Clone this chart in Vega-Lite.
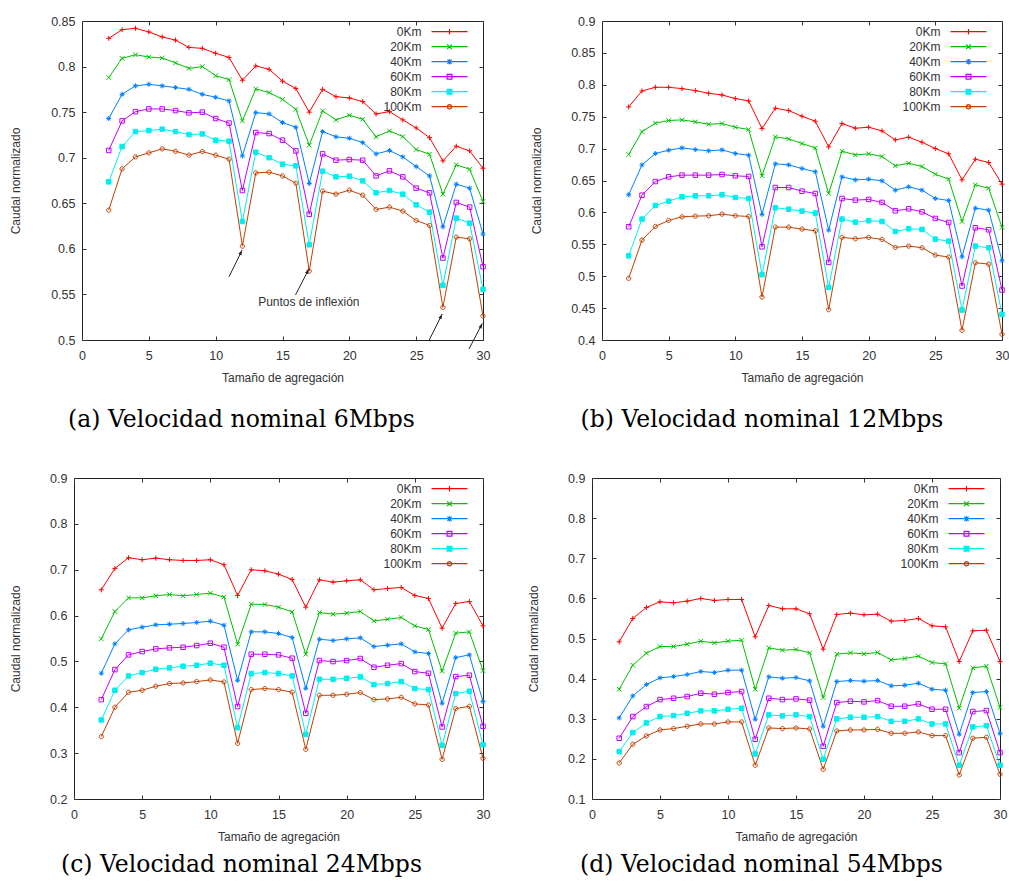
{
  "$schema": "https://vega.github.io/schema/vega-lite/v6.json",
  "padding": {"left": 8, "top": 14, "right": 0, "bottom": 0},
  "background": "#ffffff",
  "config": {
    "view": {"stroke": "#222222", "strokeWidth": 1},
    "axis": {
      "domain": false,
      "grid": false,
      "ticks": true,
      "tickColor": "#333333",
      "tickSize": -4,
      "labelFlush": false,
      "labelOverlap": false,
      "labelPadding": 11,
      "labelFont": "Liberation Sans",
      "labelFontSize": 12.5,
      "labelColor": "#333333",
      "titleFont": "Liberation Sans",
      "titleFontSize": 12,
      "titleFontWeight": "normal",
      "titleColor": "#333333"
    },
    "axisX": {"labelPadding": 13, "titlePadding": 11},
    "legend": {
      "orient": "none", "title": null, "padding": 0,
      "labelAlign": "right", "labelOffset": -35, "labelFont": "Liberation Sans", "labelFontSize": 12, "labelColor": "#333333",
      "symbolSize": 144, "symbolStrokeWidth": 1.2, "rowPadding": 2
    },
    "title": {"font": "DejaVu Serif", "fontSize": 23.5, "fontWeight": "normal", "color": "#000000", "orient": "bottom", "anchor": "middle", "offset": 24}
  },
  "datasets": {
    "a": [
      {"x": 2, "0Km": 0.831, "20Km": 0.788, "40Km": 0.743, "60Km": 0.708, "80Km": 0.6735, "100Km": 0.6425},
      {"x": 3, "0Km": 0.8405, "20Km": 0.809, "40Km": 0.7696, "60Km": 0.7404, "80Km": 0.7122, "100Km": 0.6878},
      {"x": 4, "0Km": 0.842, "20Km": 0.813, "40Km": 0.7788, "60Km": 0.7506, "80Km": 0.7287, "100Km": 0.7009},
      {"x": 5, "0Km": 0.838, "20Km": 0.8105, "40Km": 0.7806, "60Km": 0.7535, "80Km": 0.7298, "100Km": 0.7053},
      {"x": 6, "0Km": 0.8325, "20Km": 0.8095, "40Km": 0.7788, "60Km": 0.7535, "80Km": 0.7313, "100Km": 0.7097},
      {"x": 7, "0Km": 0.829, "20Km": 0.804, "40Km": 0.777, "60Km": 0.7517, "80Km": 0.7287, "100Km": 0.7071},
      {"x": 8, "0Km": 0.821, "20Km": 0.798, "40Km": 0.775, "60Km": 0.7492, "80Km": 0.7254, "100Km": 0.7028},
      {"x": 9, "0Km": 0.82, "20Km": 0.8, "40Km": 0.7696, "60Km": 0.75, "80Km": 0.7261, "100Km": 0.7068},
      {"x": 10, "0Km": 0.8146, "20Km": 0.79, "40Km": 0.7663, "60Km": 0.743, "80Km": 0.7192, "100Km": 0.7028},
      {"x": 11, "0Km": 0.81, "20Km": 0.7857, "40Km": 0.7623, "60Km": 0.738, "80Km": 0.7181, "100Km": 0.6984},
      {"x": 12, "0Km": 0.785, "20Km": 0.7404, "40Km": 0.702, "60Km": 0.664, "80Km": 0.63, "100Km": 0.603},
      {"x": 13, "0Km": 0.8007, "20Km": 0.7755, "40Km": 0.7495, "60Km": 0.7276, "80Km": 0.706, "100Km": 0.6834},
      {"x": 14, "0Km": 0.797, "20Km": 0.7715, "40Km": 0.748, "60Km": 0.7265, "80Km": 0.7, "100Km": 0.6841},
      {"x": 15, "0Km": 0.784, "20Km": 0.764, "40Km": 0.7386, "60Km": 0.7192, "80Km": 0.6929, "100Km": 0.68},
      {"x": 16, "0Km": 0.776, "20Km": 0.753, "40Km": 0.7334, "60Km": 0.7075, "80Km": 0.6911, "100Km": 0.672},
      {"x": 17, "0Km": 0.75, "20Km": 0.7137, "40Km": 0.6717, "60Km": 0.638, "80Km": 0.6045, "100Km": 0.5756},
      {"x": 18, "0Km": 0.775, "20Km": 0.7514, "40Km": 0.7287, "60Km": 0.7042, "80Km": 0.6852, "100Km": 0.6633},
      {"x": 19, "0Km": 0.767, "20Km": 0.7415, "40Km": 0.7229, "60Km": 0.6973, "80Km": 0.679, "100Km": 0.66},
      {"x": 20, "0Km": 0.7656, "20Km": 0.7466, "40Km": 0.7214, "60Km": 0.698, "80Km": 0.6797, "100Km": 0.6644},
      {"x": 21, "0Km": 0.7616, "20Km": 0.7422, "40Km": 0.7166, "60Km": 0.6973, "80Km": 0.6746, "100Km": 0.6589},
      {"x": 22, "0Km": 0.748, "20Km": 0.7229, "40Km": 0.7042, "60Km": 0.68, "80Km": 0.6615, "100Km": 0.6432},
      {"x": 23, "0Km": 0.7506, "20Km": 0.7294, "40Km": 0.7079, "60Km": 0.6856, "80Km": 0.664, "100Km": 0.6458},
      {"x": 24, "0Km": 0.7415, "20Km": 0.7232, "40Km": 0.7009, "60Km": 0.679, "80Km": 0.66, "100Km": 0.6414},
      {"x": 25, "0Km": 0.7327, "20Km": 0.709, "40Km": 0.6903, "60Km": 0.6666, "80Km": 0.6483, "100Km": 0.6311},
      {"x": 26, "0Km": 0.722, "20Km": 0.7038, "40Km": 0.68, "60Km": 0.6615, "80Km": 0.6403, "100Km": 0.6257},
      {"x": 27, "0Km": 0.6965, "20Km": 0.66, "40Km": 0.6242, "60Km": 0.5899, "80Km": 0.56, "100Km": 0.5358},
      {"x": 28, "0Km": 0.7126, "20Km": 0.6922, "40Km": 0.671, "60Km": 0.6509, "80Km": 0.6337, "100Km": 0.6129},
      {"x": 29, "0Km": 0.7075, "20Km": 0.6874, "40Km": 0.6666, "60Km": 0.6458, "80Km": 0.6282, "100Km": 0.611},
      {"x": 30, "0Km": 0.6885, "20Km": 0.652, "40Km": 0.6162, "60Km": 0.5804, "80Km": 0.5555, "100Km": 0.5263}
    ],
    "b": [
      {"x": 2, "0Km": 0.7653, "20Km": 0.6907, "40Km": 0.6276, "60Km": 0.5775, "80Km": 0.532, "100Km": 0.4966},
      {"x": 3, "0Km": 0.7904, "20Km": 0.7267, "40Km": 0.6745, "60Km": 0.627, "80Km": 0.5895, "100Km": 0.5566},
      {"x": 4, "0Km": 0.7961, "20Km": 0.7398, "40Km": 0.6923, "60Km": 0.6484, "80Km": 0.6109, "100Km": 0.578},
      {"x": 5, "0Km": 0.7961, "20Km": 0.744, "40Km": 0.6975, "60Km": 0.6557, "80Km": 0.6176, "100Km": 0.5874},
      {"x": 6, "0Km": 0.794, "20Km": 0.745, "40Km": 0.7011, "60Km": 0.6584, "80Km": 0.6244, "100Km": 0.5931},
      {"x": 7, "0Km": 0.7909, "20Km": 0.7419, "40Km": 0.6985, "60Km": 0.6584, "80Km": 0.626, "100Km": 0.5942},
      {"x": 8, "0Km": 0.7867, "20Km": 0.7382, "40Km": 0.6965, "60Km": 0.6584, "80Km": 0.626, "100Km": 0.5947},
      {"x": 9, "0Km": 0.7841, "20Km": 0.7393, "40Km": 0.698, "60Km": 0.6594, "80Km": 0.6276, "100Km": 0.5973},
      {"x": 10, "0Km": 0.7784, "20Km": 0.7335, "40Km": 0.6923, "60Km": 0.6573, "80Km": 0.6234, "100Km": 0.5947},
      {"x": 11, "0Km": 0.7747, "20Km": 0.7299, "40Km": 0.6897, "60Km": 0.6563, "80Km": 0.6218, "100Km": 0.5937},
      {"x": 12, "0Km": 0.7314, "20Km": 0.6573, "40Km": 0.5968, "60Km": 0.5461, "80Km": 0.5023, "100Km": 0.4673},
      {"x": 13, "0Km": 0.7633, "20Km": 0.7184, "40Km": 0.6761, "60Km": 0.639, "80Km": 0.6072, "100Km": 0.5769},
      {"x": 14, "0Km": 0.7596, "20Km": 0.7152, "40Km": 0.6745, "60Km": 0.639, "80Km": 0.6051, "100Km": 0.5769},
      {"x": 15, "0Km": 0.7507, "20Km": 0.7079, "40Km": 0.6688, "60Km": 0.6333, "80Km": 0.602, "100Km": 0.5738},
      {"x": 16, "0Km": 0.7429, "20Km": 0.7011, "40Km": 0.6636, "60Km": 0.6296, "80Km": 0.5989, "100Km": 0.5712},
      {"x": 17, "0Km": 0.7027, "20Km": 0.6296, "40Km": 0.5722, "60Km": 0.5216, "80Km": 0.4825, "100Km": 0.4475},
      {"x": 18, "0Km": 0.7393, "20Km": 0.6959, "40Km": 0.6557, "60Km": 0.6218, "80Km": 0.5895, "100Km": 0.5608},
      {"x": 19, "0Km": 0.7319, "20Km": 0.6902, "40Km": 0.651, "60Km": 0.6192, "80Km": 0.5848, "100Km": 0.5587},
      {"x": 20, "0Km": 0.7335, "20Km": 0.6918, "40Km": 0.6521, "60Km": 0.6203, "80Km": 0.5869, "100Km": 0.5608},
      {"x": 21, "0Km": 0.7278, "20Km": 0.6876, "40Km": 0.6495, "60Km": 0.6156, "80Km": 0.5858, "100Km": 0.5576},
      {"x": 22, "0Km": 0.7137, "20Km": 0.673, "40Km": 0.6349, "60Km": 0.6025, "80Km": 0.5701, "100Km": 0.5451},
      {"x": 23, "0Km": 0.7179, "20Km": 0.6771, "40Km": 0.6401, "60Km": 0.6056, "80Km": 0.5743, "100Km": 0.5472},
      {"x": 24, "0Km": 0.71, "20Km": 0.6719, "40Km": 0.6349, "60Km": 0.6009, "80Km": 0.5733, "100Km": 0.5446},
      {"x": 25, "0Km": 0.7001, "20Km": 0.6599, "40Km": 0.6218, "60Km": 0.5905, "80Km": 0.5581, "100Km": 0.5331},
      {"x": 26, "0Km": 0.6918, "20Km": 0.6521, "40Km": 0.6187, "60Km": 0.5842, "80Km": 0.555, "100Km": 0.53},
      {"x": 27, "0Km": 0.651, "20Km": 0.5858, "40Km": 0.5305, "60Km": 0.4846, "80Km": 0.447, "100Km": 0.4151},
      {"x": 28, "0Km": 0.6834, "20Km": 0.6432, "40Km": 0.6067, "60Km": 0.5759, "80Km": 0.5472, "100Km": 0.5211},
      {"x": 29, "0Km": 0.6782, "20Km": 0.638, "40Km": 0.6035, "60Km": 0.5728, "80Km": 0.5446, "100Km": 0.519},
      {"x": 30, "0Km": 0.6443, "20Km": 0.5764, "40Km": 0.5242, "60Km": 0.4783, "80Km": 0.4402, "100Km": 0.4089}
    ],
    "c": [
      {"x": 2, "0Km": 0.6562, "20Km": 0.5492, "40Km": 0.4742, "60Km": 0.4167, "80Km": 0.3723, "100Km": 0.336},
      {"x": 3, "0Km": 0.7028, "20Km": 0.6089, "40Km": 0.5383, "60Km": 0.4822, "80Km": 0.4371, "100Km": 0.4},
      {"x": 4, "0Km": 0.7261, "20Km": 0.6387, "40Km": 0.5689, "60Km": 0.5143, "80Km": 0.4684, "100Km": 0.4328},
      {"x": 5, "0Km": 0.7217, "20Km": 0.6387, "40Km": 0.5747, "60Km": 0.5215, "80Km": 0.4757, "100Km": 0.4371},
      {"x": 6, "0Km": 0.7253, "20Km": 0.6431, "40Km": 0.5798, "60Km": 0.5274, "80Km": 0.483, "100Km": 0.4459},
      {"x": 7, "0Km": 0.7217, "20Km": 0.646, "40Km": 0.5812, "60Km": 0.5296, "80Km": 0.4859, "100Km": 0.4517},
      {"x": 8, "0Km": 0.7202, "20Km": 0.6431, "40Km": 0.5827, "60Km": 0.531, "80Km": 0.4895, "100Km": 0.4531},
      {"x": 9, "0Km": 0.7202, "20Km": 0.646, "40Km": 0.5849, "60Km": 0.5346, "80Km": 0.4917, "100Km": 0.456},
      {"x": 10, "0Km": 0.7217, "20Km": 0.6489, "40Km": 0.5878, "60Km": 0.5397, "80Km": 0.4961, "100Km": 0.4597},
      {"x": 11, "0Km": 0.7108, "20Km": 0.6402, "40Km": 0.579, "60Km": 0.531, "80Km": 0.4917, "100Km": 0.4553},
      {"x": 12, "0Km": 0.6438, "20Km": 0.5376, "40Km": 0.4589, "60Km": 0.4015, "80Km": 0.3556, "100Km": 0.3214},
      {"x": 13, "0Km": 0.6999, "20Km": 0.6249, "40Km": 0.5645, "60Km": 0.5157, "80Km": 0.4735, "100Km": 0.4386},
      {"x": 14, "0Km": 0.6977, "20Km": 0.6242, "40Km": 0.5645, "60Km": 0.5157, "80Km": 0.4757, "100Km": 0.4408},
      {"x": 15, "0Km": 0.6904, "20Km": 0.6183, "40Km": 0.5608, "60Km": 0.5143, "80Km": 0.4735, "100Km": 0.4386},
      {"x": 16, "0Km": 0.6787, "20Km": 0.6081, "40Km": 0.5521, "60Km": 0.507, "80Km": 0.4684, "100Km": 0.4328},
      {"x": 17, "0Km": 0.6183, "20Km": 0.5157, "40Km": 0.4415, "60Km": 0.3869, "80Km": 0.341, "100Km": 0.3083},
      {"x": 18, "0Km": 0.678, "20Km": 0.6067, "40Km": 0.5485, "60Km": 0.5019, "80Km": 0.4611, "100Km": 0.4262},
      {"x": 19, "0Km": 0.6729, "20Km": 0.603, "40Km": 0.5456, "60Km": 0.4997, "80Km": 0.4611, "100Km": 0.4262},
      {"x": 20, "0Km": 0.6758, "20Km": 0.6052, "40Km": 0.5492, "60Km": 0.5019, "80Km": 0.4633, "100Km": 0.4284},
      {"x": 21, "0Km": 0.678, "20Km": 0.6089, "40Km": 0.5514, "60Km": 0.5063, "80Km": 0.4662, "100Km": 0.432},
      {"x": 22, "0Km": 0.6562, "20Km": 0.5885, "40Km": 0.5325, "60Km": 0.4873, "80Km": 0.4495, "100Km": 0.4167},
      {"x": 23, "0Km": 0.6591, "20Km": 0.5921, "40Km": 0.5354, "60Km": 0.4917, "80Km": 0.4517, "100Km": 0.4182},
      {"x": 24, "0Km": 0.6613, "20Km": 0.5958, "40Km": 0.5383, "60Km": 0.4953, "80Km": 0.456, "100Km": 0.4218},
      {"x": 25, "0Km": 0.6438, "20Km": 0.5776, "40Km": 0.5208, "60Km": 0.4779, "80Km": 0.4408, "100Km": 0.4073},
      {"x": 26, "0Km": 0.6373, "20Km": 0.5696, "40Km": 0.5172, "60Km": 0.4742, "80Km": 0.4386, "100Km": 0.4051},
      {"x": 27, "0Km": 0.5725, "20Km": 0.4786, "40Km": 0.4087, "60Km": 0.3571, "80Km": 0.317, "100Km": 0.2865},
      {"x": 28, "0Km": 0.6264, "20Km": 0.5616, "40Km": 0.5084, "60Km": 0.4669, "80Km": 0.4298, "100Km": 0.3971},
      {"x": 29, "0Km": 0.6307, "20Km": 0.5645, "40Km": 0.5143, "60Km": 0.4699, "80Km": 0.4349, "100Km": 0.4022},
      {"x": 30, "0Km": 0.5776, "20Km": 0.48, "40Km": 0.4124, "60Km": 0.3585, "80Km": 0.3185, "100Km": 0.2886}
    ],
    "d": [
      {"x": 2, "0Km": 0.4917, "20Km": 0.3736, "40Km": 0.3021, "60Km": 0.2514, "80Km": 0.2181, "100Km": 0.1898},
      {"x": 3, "0Km": 0.5499, "20Km": 0.4335, "40Km": 0.357, "60Km": 0.3054, "80Km": 0.2655, "100Km": 0.2364},
      {"x": 4, "0Km": 0.5773, "20Km": 0.4634, "40Km": 0.3852, "60Km": 0.3304, "80Km": 0.2896, "100Km": 0.2572},
      {"x": 5, "0Km": 0.5915, "20Km": 0.48, "40Km": 0.4019, "60Km": 0.3478, "80Km": 0.3054, "100Km": 0.2721},
      {"x": 6, "0Km": 0.589, "20Km": 0.48, "40Km": 0.4052, "60Km": 0.3511, "80Km": 0.3079, "100Km": 0.2755},
      {"x": 7, "0Km": 0.5931, "20Km": 0.4859, "40Km": 0.4102, "60Km": 0.3553, "80Km": 0.3137, "100Km": 0.2813},
      {"x": 8, "0Km": 0.5998, "20Km": 0.4933, "40Km": 0.4177, "60Km": 0.3636, "80Km": 0.3196, "100Km": 0.2871},
      {"x": 9, "0Km": 0.5948, "20Km": 0.4892, "40Km": 0.4152, "60Km": 0.3611, "80Km": 0.3196, "100Km": 0.2871},
      {"x": 10, "0Km": 0.5973, "20Km": 0.4933, "40Km": 0.421, "60Km": 0.3653, "80Km": 0.3237, "100Km": 0.2921},
      {"x": 11, "0Km": 0.5973, "20Km": 0.4958, "40Km": 0.421, "60Km": 0.3678, "80Km": 0.3262, "100Km": 0.2921},
      {"x": 12, "0Km": 0.5042, "20Km": 0.3736, "40Km": 0.2987, "60Km": 0.2489, "80Km": 0.2123, "100Km": 0.184},
      {"x": 13, "0Km": 0.5823, "20Km": 0.4767, "40Km": 0.4044, "60Km": 0.3511, "80Km": 0.3096, "100Km": 0.2771},
      {"x": 14, "0Km": 0.574, "20Km": 0.4709, "40Km": 0.401, "60Km": 0.3478, "80Km": 0.3071, "100Km": 0.2755},
      {"x": 15, "0Km": 0.574, "20Km": 0.4726, "40Km": 0.4027, "60Km": 0.3495, "80Km": 0.3096, "100Km": 0.2771},
      {"x": 16, "0Km": 0.5615, "20Km": 0.4642, "40Km": 0.3944, "60Km": 0.3462, "80Km": 0.3054, "100Km": 0.2746},
      {"x": 17, "0Km": 0.4734, "20Km": 0.3528, "40Km": 0.2813, "60Km": 0.2314, "80Km": 0.199, "100Km": 0.174},
      {"x": 18, "0Km": 0.5599, "20Km": 0.4609, "40Km": 0.3927, "60Km": 0.3403, "80Km": 0.2996, "100Km": 0.2696},
      {"x": 19, "0Km": 0.5632, "20Km": 0.4642, "40Km": 0.3952, "60Km": 0.3437, "80Km": 0.3037, "100Km": 0.2721},
      {"x": 20, "0Km": 0.559, "20Km": 0.4617, "40Km": 0.3936, "60Km": 0.342, "80Km": 0.3037, "100Km": 0.2721},
      {"x": 21, "0Km": 0.5607, "20Km": 0.4651, "40Km": 0.3952, "60Km": 0.3453, "80Km": 0.3054, "100Km": 0.2738},
      {"x": 22, "0Km": 0.5432, "20Km": 0.4468, "40Km": 0.3819, "60Km": 0.3312, "80Km": 0.2937, "100Km": 0.2638},
      {"x": 23, "0Km": 0.5449, "20Km": 0.4501, "40Km": 0.3836, "60Km": 0.3312, "80Km": 0.2937, "100Km": 0.2638},
      {"x": 24, "0Km": 0.5499, "20Km": 0.4559, "40Km": 0.3886, "60Km": 0.337, "80Km": 0.2996, "100Km": 0.2671},
      {"x": 25, "0Km": 0.5316, "20Km": 0.4401, "40Km": 0.3736, "60Km": 0.3237, "80Km": 0.2871, "100Km": 0.258},
      {"x": 26, "0Km": 0.5291, "20Km": 0.4368, "40Km": 0.3711, "60Km": 0.3237, "80Km": 0.2871, "100Km": 0.258},
      {"x": 27, "0Km": 0.4426, "20Km": 0.3262, "40Km": 0.2613, "60Km": 0.2156, "80Km": 0.184, "100Km": 0.1599},
      {"x": 28, "0Km": 0.5191, "20Km": 0.4268, "40Km": 0.3653, "60Km": 0.3179, "80Km": 0.2796, "100Km": 0.2514},
      {"x": 29, "0Km": 0.5208, "20Km": 0.431, "40Km": 0.3678, "60Km": 0.3204, "80Km": 0.2829, "100Km": 0.2538},
      {"x": 30, "0Km": 0.4426, "20Km": 0.3279, "40Km": 0.263, "60Km": 0.2156, "80Km": 0.184, "100Km": 0.1616}
    ],
    "flechas": [
      {"x0": 11.0, "y0": 0.5694, "x1": 11.98, "y1": 0.5986},
      {"x0": 15.97, "y0": 0.5493, "x1": 16.97, "y1": 0.5778},
      {"x0": 25.95, "y0": 0.4992, "x1": 26.95, "y1": 0.5285},
      {"x0": 28.95, "y0": 0.4901, "x1": 29.95, "y1": 0.5182}
    ],
    "nota": [
      {"x": 16.97, "y": 0.5413, "texto": "Puntos de inflexión"}
    ]
  },
  "vconcat": [
    {
      "hconcat": [
        {"width": 1, "height": 1, "view": {"stroke": null}, "data": {"values": []}, "mark": "point"},
        {
          "hconcat": [
            {
              "width": 401,
              "height": 319,
              "title": {"text": "(a) Velocidad nominal 6Mbps", "dx": -41},
              "data": {"name": "a"},
              "layer": [
                {
                  "transform": [{"fold": ["0Km", "20Km", "40Km", "60Km", "80Km", "100Km"], "as": ["dist", "v"]}],
                  "mark": {"type": "line", "strokeWidth": 1},
                  "encoding": {
                    "x": {"field": "x", "type": "quantitative", "scale": {"domain": [0, 30], "nice": false}, "axis": {"values": [0, 5, 10, 15, 20, 25, 30], "title": "Tamaño de agregación"}},
                    "y": {"field": "v", "type": "quantitative", "scale": {"domain": [0.5, 0.85], "nice": false, "zero": false}, "axis": {"values": [0.5, 0.55, 0.6, 0.65, 0.7, 0.75, 0.8, 0.85], "format": "~g", "title": "Caudal normalizado", "titlePadding": 28}},
                    "color": {
                      "field": "dist", "type": "nominal",
                      "scale": {"domain": ["0Km", "20Km", "40Km", "60Km", "80Km", "100Km"], "range": ["#ff0000", "#00c000", "#0080ff", "#c000ff", "#00eeee", "#c04000"]},
                      "legend": {"legendX": 360.5, "legendY": 3.7, "encode": {"symbols": {"update": {"size": {"value": 144}, "strokeWidth": {"value": 1.2}, "opacity": {"value": 1}}}}}
                    }
                  }
                },
                {
                  "transform": [{"fold": ["0Km", "20Km", "40Km", "60Km", "80Km", "100Km"], "as": ["dist", "v"]}, {"filter": "false"}],
                  "mark": {"type": "point", "filled": false, "opacity": 1},
                  "encoding": {
                    "x": {"field": "x", "type": "quantitative", "axis": null},
                    "y": {"field": "v", "type": "quantitative", "axis": null},
                    "color": {"field": "dist", "type": "nominal"},
                    "shape": {"field": "dist", "type": "nominal", "scale": {"domain": ["0Km", "20Km", "40Km", "60Km", "80Km", "100Km"], "range": ["M-3,0H3M0,-0.45V0.45", "M-3,0H3M-0.4,-0.4L0.4,0.4M-0.4,0.4L0.4,-0.4", "M-3,0H3M0,-0.45V0.45M-0.35,-0.35L0.35,0.35M-0.35,0.35L0.35,-0.35", "M-3,0H3M-0.4,-0.4H0.4V0.4H-0.4Z", "M-3,0H3M-0.4,-0.4H0.4V0.4H-0.4Z", "M-3,0H3M0.35,0A0.35,0.35,0,1,1,-0.35,0A0.35,0.35,0,1,1,0.35,0Z"]}},
                    "fill": {"field": "dist", "type": "nominal", "scale": {"domain": ["0Km", "20Km", "40Km", "60Km", "80Km", "100Km"], "range": ["transparent", "transparent", "transparent", "transparent", "#00eeee", "transparent"]}}
                  }
                },
                {
                  "transform": [{"fold": ["0Km", "20Km", "40Km", "60Km", "80Km", "100Km"], "as": ["dist", "v"]}],
                  "mark": {"type": "point", "filled": false, "size": 25, "strokeWidth": 1, "opacity": 1},
                  "encoding": {
                    "x": {"field": "x", "type": "quantitative", "axis": {"orient": "top", "labels": false, "title": null, "values": [0, 5, 10, 15, 20, 25, 30]}},
                    "y": {"field": "v", "type": "quantitative", "axis": {"orient": "right", "labels": false, "title": null, "values": [0.5, 0.55, 0.6, 0.65, 0.7, 0.75, 0.8, 0.85]}},
                    "color": {"field": "dist", "type": "nominal"},
                    "shape": {"condition": [
                      {"test": "datum.dist === '0Km'", "value": "M-1,0H1M0,-1V1"},
                      {"test": "datum.dist === '20Km'", "value": "M-0.9,-0.9L0.9,0.9M-0.9,0.9L0.9,-0.9"},
                      {"test": "datum.dist === '40Km'", "value": "M-1,0H1M0,-1V1M-0.7,-0.7L0.7,0.7M-0.7,0.7L0.7,-0.7"},
                      {"test": "datum.dist === '100Km'", "value": "M0.85,0A0.85,0.85,0,1,1,-0.85,0A0.85,0.85,0,1,1,0.85,0Z"}
                    ], "value": "M-0.9,-0.9H0.9V0.9H-0.9Z"},
                    "fill": {"condition": {"test": "datum.dist === '80Km'", "value": "#00eeee"}, "value": "transparent"}
                  }
                },
                {
                  "data": {"name": "flechas"},
                  "mark": {"type": "rule", "color": "#222222", "strokeWidth": 1},
                  "encoding": {
                    "x": {"field": "x0", "type": "quantitative", "axis": null},
                    "y": {"field": "y0", "type": "quantitative", "axis": null},
                    "x2": {"field": "x1"},
                    "y2": {"field": "y1"}
                  }
                },
                {
                  "data": {"name": "flechas"},
                  "mark": {"type": "point", "filled": true, "color": "#222222", "opacity": 1, "size": 25, "shape": "M0,0L0.7,2L-0.7,2Z", "angle": 27},
                  "encoding": {
                    "x": {"field": "x1", "type": "quantitative", "axis": null},
                    "y": {"field": "y1", "type": "quantitative", "axis": null}
                  }
                },
                {
                  "data": {"name": "nota"},
                  "mark": {"type": "text", "font": "Liberation Sans", "fontSize": 12, "color": "#333333", "align": "center", "baseline": "middle"},
                  "encoding": {
                    "x": {"field": "x", "type": "quantitative", "axis": null},
                    "y": {"field": "y", "type": "quantitative", "axis": null},
                    "text": {"field": "texto"}
                  }
                }
              ],
              "resolve": {"axis": {"x": "independent", "y": "independent"}}
            },
            {
              "width": 400,
              "height": 319,
              "title": {"text": "(b) Velocidad nominal 12Mbps", "dx": -40},
              "data": {"name": "b"},
              "layer": [
                {
                  "transform": [{"fold": ["0Km", "20Km", "40Km", "60Km", "80Km", "100Km"], "as": ["dist", "v"]}],
                  "mark": {"type": "line", "strokeWidth": 1},
                  "encoding": {
                    "x": {"field": "x", "type": "quantitative", "scale": {"domain": [0, 30], "nice": false}, "axis": {"values": [0, 5, 10, 15, 20, 25, 30], "title": "Tamaño de agregación"}},
                    "y": {"field": "v", "type": "quantitative", "scale": {"domain": [0.4, 0.9], "nice": false, "zero": false}, "axis": {"values": [0.4, 0.45, 0.5, 0.55, 0.6, 0.65, 0.7, 0.75, 0.8, 0.85, 0.9], "format": "~g", "title": "Caudal normalizado", "titlePadding": 27}},
                    "color": {
                      "field": "dist", "type": "nominal",
                      "scale": {"domain": ["0Km", "20Km", "40Km", "60Km", "80Km", "100Km"], "range": ["#ff0000", "#00c000", "#0080ff", "#c000ff", "#00eeee", "#c04000"]},
                      "legend": {"legendX": 359.5, "legendY": 3.7, "encode": {"symbols": {"update": {"size": {"value": 144}, "strokeWidth": {"value": 1.2}, "opacity": {"value": 1}}}}}
                    }
                  }
                },
                {
                  "transform": [{"fold": ["0Km", "20Km", "40Km", "60Km", "80Km", "100Km"], "as": ["dist", "v"]}, {"filter": "false"}],
                  "mark": {"type": "point", "filled": false, "opacity": 1},
                  "encoding": {
                    "x": {"field": "x", "type": "quantitative", "axis": null},
                    "y": {"field": "v", "type": "quantitative", "axis": null},
                    "color": {"field": "dist", "type": "nominal"},
                    "shape": {"field": "dist", "type": "nominal", "scale": {"domain": ["0Km", "20Km", "40Km", "60Km", "80Km", "100Km"], "range": ["M-3,0H3M0,-0.45V0.45", "M-3,0H3M-0.4,-0.4L0.4,0.4M-0.4,0.4L0.4,-0.4", "M-3,0H3M0,-0.45V0.45M-0.35,-0.35L0.35,0.35M-0.35,0.35L0.35,-0.35", "M-3,0H3M-0.4,-0.4H0.4V0.4H-0.4Z", "M-3,0H3M-0.4,-0.4H0.4V0.4H-0.4Z", "M-3,0H3M0.35,0A0.35,0.35,0,1,1,-0.35,0A0.35,0.35,0,1,1,0.35,0Z"]}},
                    "fill": {"field": "dist", "type": "nominal", "scale": {"domain": ["0Km", "20Km", "40Km", "60Km", "80Km", "100Km"], "range": ["transparent", "transparent", "transparent", "transparent", "#00eeee", "transparent"]}}
                  }
                },
                {
                  "transform": [{"fold": ["0Km", "20Km", "40Km", "60Km", "80Km", "100Km"], "as": ["dist", "v"]}],
                  "mark": {"type": "point", "filled": false, "size": 25, "strokeWidth": 1, "opacity": 1},
                  "encoding": {
                    "x": {"field": "x", "type": "quantitative", "axis": {"orient": "top", "labels": false, "title": null, "values": [0, 5, 10, 15, 20, 25, 30]}},
                    "y": {"field": "v", "type": "quantitative", "axis": {"orient": "right", "labels": false, "title": null, "values": [0.4, 0.45, 0.5, 0.55, 0.6, 0.65, 0.7, 0.75, 0.8, 0.85, 0.9]}},
                    "color": {"field": "dist", "type": "nominal"},
                    "shape": {"condition": [
                      {"test": "datum.dist === '0Km'", "value": "M-1,0H1M0,-1V1"},
                      {"test": "datum.dist === '20Km'", "value": "M-0.9,-0.9L0.9,0.9M-0.9,0.9L0.9,-0.9"},
                      {"test": "datum.dist === '40Km'", "value": "M-1,0H1M0,-1V1M-0.7,-0.7L0.7,0.7M-0.7,0.7L0.7,-0.7"},
                      {"test": "datum.dist === '100Km'", "value": "M0.85,0A0.85,0.85,0,1,1,-0.85,0A0.85,0.85,0,1,1,0.85,0Z"}
                    ], "value": "M-0.9,-0.9H0.9V0.9H-0.9Z"},
                    "fill": {"condition": {"test": "datum.dist === '80Km'", "value": "#00eeee"}, "value": "transparent"}
                  }
                }
              ],
              "resolve": {"axis": {"x": "independent", "y": "independent"}}
            }
          ],
          "spacing": 39,
          "resolve": {"scale": {"color": "independent", "shape": "independent", "fill": "independent"}, "legend": {"color": "independent", "shape": "independent", "fill": "independent"}}
        }
      ],
      "spacing": 0,
      "resolve": {"scale": {"color": "independent", "shape": "independent", "fill": "independent"}, "legend": {"color": "independent", "shape": "independent", "fill": "independent"}}
    },
    {
      "hconcat": [
        {"width": 1, "height": 1, "view": {"stroke": null}, "data": {"values": []}, "mark": "point"},
        {
          "hconcat": [
            {
              "width": 409,
              "height": 321,
              "title": {"text": "(c) Velocidad nominal 24Mbps", "dx": -37, "offset": 10},
              "data": {"name": "c"},
              "layer": [
                {
                  "transform": [{"fold": ["0Km", "20Km", "40Km", "60Km", "80Km", "100Km"], "as": ["dist", "v"]}],
                  "mark": {"type": "line", "strokeWidth": 1},
                  "encoding": {
                    "x": {"field": "x", "type": "quantitative", "scale": {"domain": [0, 30], "nice": false}, "axis": {"values": [0, 5, 10, 15, 20, 25, 30], "title": "Tamaño de agregación"}},
                    "y": {"field": "v", "type": "quantitative", "scale": {"domain": [0.2, 0.9], "nice": false, "zero": false}, "axis": {"values": [0.2, 0.3, 0.4, 0.5, 0.6, 0.7, 0.8, 0.9], "format": "~g", "title": "Caudal normalizado", "titlePadding": 27}},
                    "color": {
                      "field": "dist", "type": "nominal",
                      "scale": {"domain": ["0Km", "20Km", "40Km", "60Km", "80Km", "100Km"], "range": ["#ff0000", "#00c000", "#0080ff", "#c000ff", "#00eeee", "#c04000"]},
                      "legend": {"legendX": 368.5, "legendY": 3.7, "encode": {"symbols": {"update": {"size": {"value": 144}, "strokeWidth": {"value": 1.2}, "opacity": {"value": 1}}}}}
                    }
                  }
                },
                {
                  "transform": [{"fold": ["0Km", "20Km", "40Km", "60Km", "80Km", "100Km"], "as": ["dist", "v"]}, {"filter": "false"}],
                  "mark": {"type": "point", "filled": false, "opacity": 1},
                  "encoding": {
                    "x": {"field": "x", "type": "quantitative", "axis": null},
                    "y": {"field": "v", "type": "quantitative", "axis": null},
                    "color": {"field": "dist", "type": "nominal"},
                    "shape": {"field": "dist", "type": "nominal", "scale": {"domain": ["0Km", "20Km", "40Km", "60Km", "80Km", "100Km"], "range": ["M-3,0H3M0,-0.45V0.45", "M-3,0H3M-0.4,-0.4L0.4,0.4M-0.4,0.4L0.4,-0.4", "M-3,0H3M0,-0.45V0.45M-0.35,-0.35L0.35,0.35M-0.35,0.35L0.35,-0.35", "M-3,0H3M-0.4,-0.4H0.4V0.4H-0.4Z", "M-3,0H3M-0.4,-0.4H0.4V0.4H-0.4Z", "M-3,0H3M0.35,0A0.35,0.35,0,1,1,-0.35,0A0.35,0.35,0,1,1,0.35,0Z"]}},
                    "fill": {"field": "dist", "type": "nominal", "scale": {"domain": ["0Km", "20Km", "40Km", "60Km", "80Km", "100Km"], "range": ["transparent", "transparent", "transparent", "transparent", "#00eeee", "transparent"]}}
                  }
                },
                {
                  "transform": [{"fold": ["0Km", "20Km", "40Km", "60Km", "80Km", "100Km"], "as": ["dist", "v"]}],
                  "mark": {"type": "point", "filled": false, "size": 25, "strokeWidth": 1, "opacity": 1},
                  "encoding": {
                    "x": {"field": "x", "type": "quantitative", "axis": {"orient": "top", "labels": false, "title": null, "values": [0, 5, 10, 15, 20, 25, 30]}},
                    "y": {"field": "v", "type": "quantitative", "axis": {"orient": "right", "labels": false, "title": null, "values": [0.2, 0.3, 0.4, 0.5, 0.6, 0.7, 0.8, 0.9]}},
                    "color": {"field": "dist", "type": "nominal"},
                    "shape": {"condition": [
                      {"test": "datum.dist === '0Km'", "value": "M-1,0H1M0,-1V1"},
                      {"test": "datum.dist === '20Km'", "value": "M-0.9,-0.9L0.9,0.9M-0.9,0.9L0.9,-0.9"},
                      {"test": "datum.dist === '40Km'", "value": "M-1,0H1M0,-1V1M-0.7,-0.7L0.7,0.7M-0.7,0.7L0.7,-0.7"},
                      {"test": "datum.dist === '100Km'", "value": "M0.85,0A0.85,0.85,0,1,1,-0.85,0A0.85,0.85,0,1,1,0.85,0Z"}
                    ], "value": "M-0.9,-0.9H0.9V0.9H-0.9Z"},
                    "fill": {"condition": {"test": "datum.dist === '80Km'", "value": "#00eeee"}, "value": "transparent"}
                  }
                }
              ],
              "resolve": {"axis": {"x": "independent", "y": "independent"}}
            },
            {
              "width": 408,
              "height": 321,
              "title": {"text": "(d) Velocidad nominal 54Mbps", "dx": -34.5, "offset": 10},
              "data": {"name": "d"},
              "layer": [
                {
                  "transform": [{"fold": ["0Km", "20Km", "40Km", "60Km", "80Km", "100Km"], "as": ["dist", "v"]}],
                  "mark": {"type": "line", "strokeWidth": 1},
                  "encoding": {
                    "x": {"field": "x", "type": "quantitative", "scale": {"domain": [0, 30], "nice": false}, "axis": {"values": [0, 5, 10, 15, 20, 25, 30], "title": "Tamaño de agregación"}},
                    "y": {"field": "v", "type": "quantitative", "scale": {"domain": [0.1, 0.9], "nice": false, "zero": false}, "axis": {"values": [0.1, 0.2, 0.3, 0.4, 0.5, 0.6, 0.7, 0.8, 0.9], "format": "~g", "title": "Caudal normalizado", "titlePadding": 27}},
                    "color": {
                      "field": "dist", "type": "nominal",
                      "scale": {"domain": ["0Km", "20Km", "40Km", "60Km", "80Km", "100Km"], "range": ["#ff0000", "#00c000", "#0080ff", "#c000ff", "#00eeee", "#c04000"]},
                      "legend": {"legendX": 367.5, "legendY": 3.7, "encode": {"symbols": {"update": {"size": {"value": 144}, "strokeWidth": {"value": 1.2}, "opacity": {"value": 1}}}}}
                    }
                  }
                },
                {
                  "transform": [{"fold": ["0Km", "20Km", "40Km", "60Km", "80Km", "100Km"], "as": ["dist", "v"]}, {"filter": "false"}],
                  "mark": {"type": "point", "filled": false, "opacity": 1},
                  "encoding": {
                    "x": {"field": "x", "type": "quantitative", "axis": null},
                    "y": {"field": "v", "type": "quantitative", "axis": null},
                    "color": {"field": "dist", "type": "nominal"},
                    "shape": {"field": "dist", "type": "nominal", "scale": {"domain": ["0Km", "20Km", "40Km", "60Km", "80Km", "100Km"], "range": ["M-3,0H3M0,-0.45V0.45", "M-3,0H3M-0.4,-0.4L0.4,0.4M-0.4,0.4L0.4,-0.4", "M-3,0H3M0,-0.45V0.45M-0.35,-0.35L0.35,0.35M-0.35,0.35L0.35,-0.35", "M-3,0H3M-0.4,-0.4H0.4V0.4H-0.4Z", "M-3,0H3M-0.4,-0.4H0.4V0.4H-0.4Z", "M-3,0H3M0.35,0A0.35,0.35,0,1,1,-0.35,0A0.35,0.35,0,1,1,0.35,0Z"]}},
                    "fill": {"field": "dist", "type": "nominal", "scale": {"domain": ["0Km", "20Km", "40Km", "60Km", "80Km", "100Km"], "range": ["transparent", "transparent", "transparent", "transparent", "#00eeee", "transparent"]}}
                  }
                },
                {
                  "transform": [{"fold": ["0Km", "20Km", "40Km", "60Km", "80Km", "100Km"], "as": ["dist", "v"]}],
                  "mark": {"type": "point", "filled": false, "size": 25, "strokeWidth": 1, "opacity": 1},
                  "encoding": {
                    "x": {"field": "x", "type": "quantitative", "axis": {"orient": "top", "labels": false, "title": null, "values": [0, 5, 10, 15, 20, 25, 30]}},
                    "y": {"field": "v", "type": "quantitative", "axis": {"orient": "right", "labels": false, "title": null, "values": [0.1, 0.2, 0.3, 0.4, 0.5, 0.6, 0.7, 0.8, 0.9]}},
                    "color": {"field": "dist", "type": "nominal"},
                    "shape": {"condition": [
                      {"test": "datum.dist === '0Km'", "value": "M-1,0H1M0,-1V1"},
                      {"test": "datum.dist === '20Km'", "value": "M-0.9,-0.9L0.9,0.9M-0.9,0.9L0.9,-0.9"},
                      {"test": "datum.dist === '40Km'", "value": "M-1,0H1M0,-1V1M-0.7,-0.7L0.7,0.7M-0.7,0.7L0.7,-0.7"},
                      {"test": "datum.dist === '100Km'", "value": "M0.85,0A0.85,0.85,0,1,1,-0.85,0A0.85,0.85,0,1,1,0.85,0Z"}
                    ], "value": "M-0.9,-0.9H0.9V0.9H-0.9Z"},
                    "fill": {"condition": {"test": "datum.dist === '80Km'", "value": "#00eeee"}, "value": "transparent"}
                  }
                }
              ],
              "resolve": {"axis": {"x": "independent", "y": "independent"}}
            }
          ],
          "spacing": 36,
          "resolve": {"scale": {"color": "independent", "shape": "independent", "fill": "independent"}, "legend": {"color": "independent", "shape": "independent", "fill": "independent"}}
        }
      ],
      "spacing": 0,
      "resolve": {"scale": {"color": "independent", "shape": "independent", "fill": "independent"}, "legend": {"color": "independent", "shape": "independent", "fill": "independent"}}
    }
  ],
  "spacing": 39,
  "resolve": {"scale": {"color": "independent", "shape": "independent", "fill": "independent"}, "legend": {"color": "independent", "shape": "independent", "fill": "independent"}}
}
